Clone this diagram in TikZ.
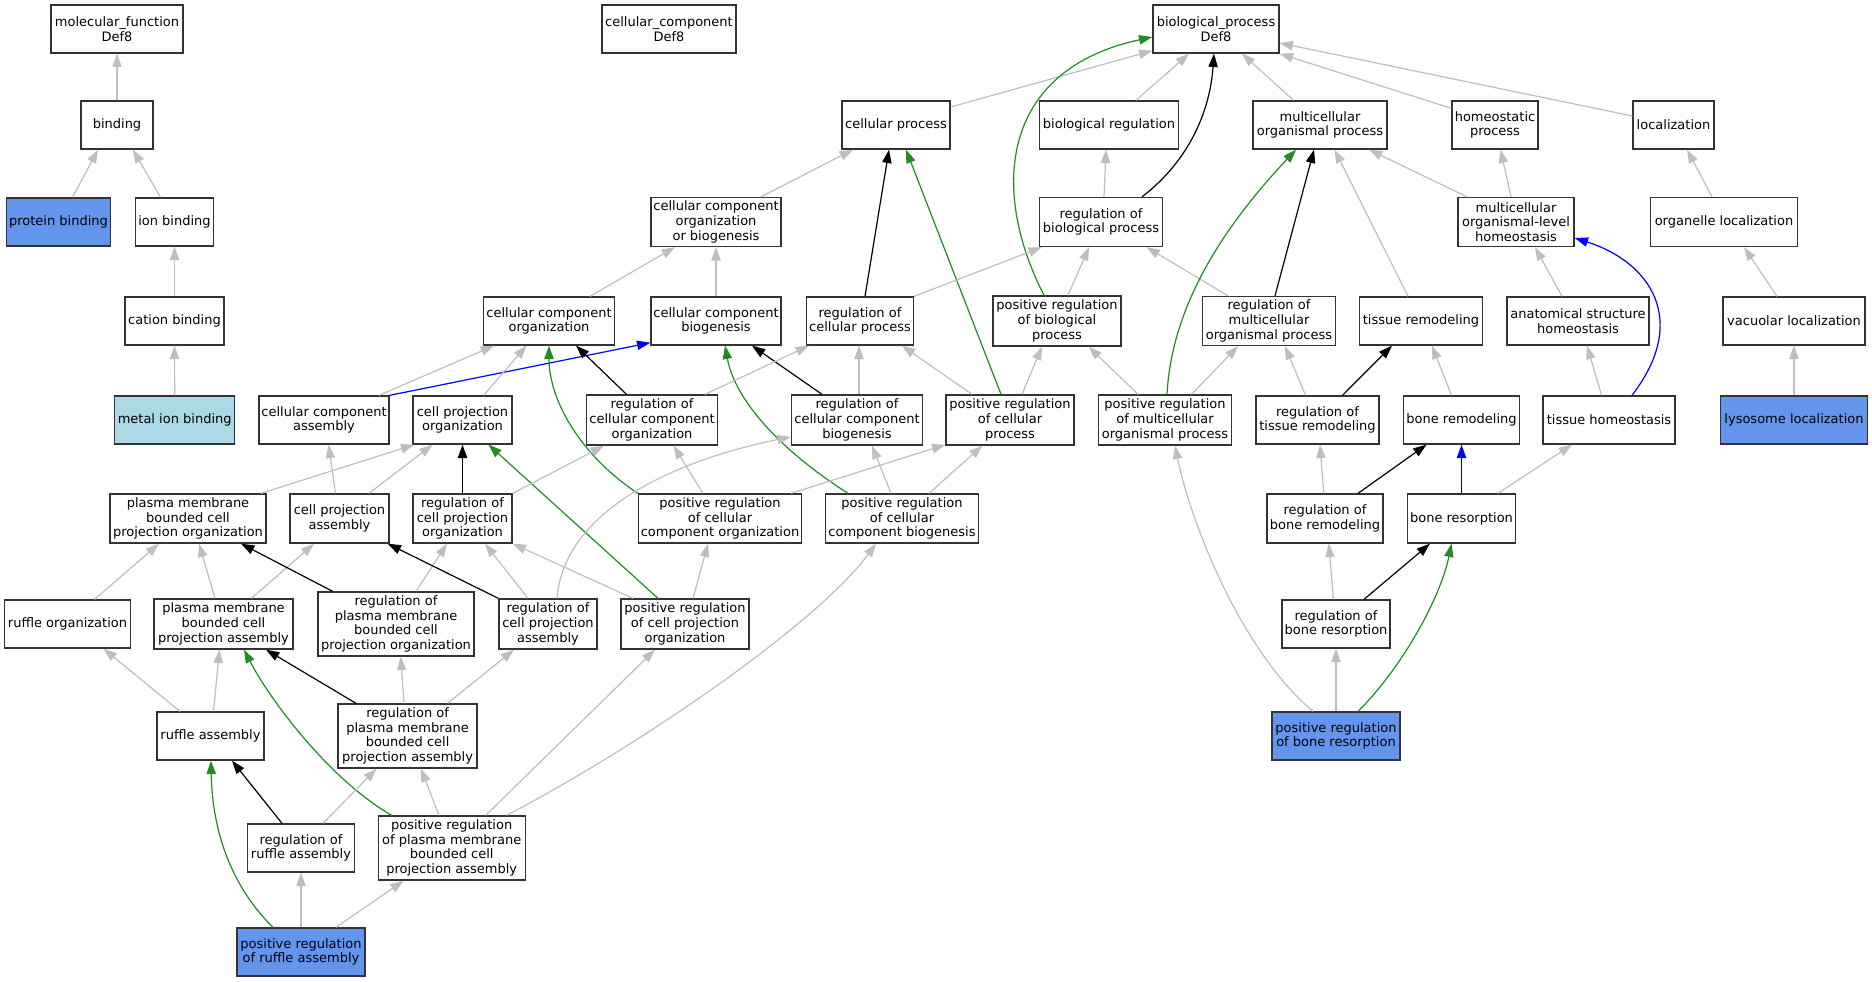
\documentclass[tikz,border=0pt]{standalone}
\usepackage{fontspec}
\setmainfont{DejaVu Sans}
\usetikzlibrary{arrows.meta,calc}
\definecolor{edgegray}{RGB}{190,190,190}
\definecolor{fgreen}{RGB}{34,139,34}
\definecolor{cfblue}{RGB}{100,149,237}
\definecolor{lblue}{RGB}{173,216,230}
\newcommand{\goE}[5]{\draw[#1] ($(#2.north)+(#3,0)$) -- ($(#4.south)+(#5,0)$);}
\begin{document}
\begin{tikzpicture}[x=0.75pt,y=-0.75pt,
  font=\fontsize{9.75pt}{11pt}\selectfont,
  gobox/.style 2 args={draw=black!80, line width=1pt, fill=white, minimum width={#1*0.75pt}, minimum height={#2*0.75pt}, inner sep=0pt, align=center},
  tip/.style={-{Triangle[length=10pt,width=7pt]}},
  isa/.style={draw=edgegray, line width=0.9pt, tip},
  regl/.style={draw=black, line width=0.9pt, tip},
  posr/.style={draw=fgreen, line width=0.9pt, tip},
  partof/.style={draw=blue, line width=0.9pt, tip}]
\fill[white] (0,0) rectangle (1872,981);
\useasboundingbox (0,0) rectangle (1872,981);
% row 1
\node[gobox={132}{48}] (mf) at (117,29) {molecular\_function\\Def8};
\node[gobox={134}{48}] (cc) at (669,29) {cellular\_component\\Def8};
\node[gobox={126}{48}] (bp) at (1216,29) {biological\_process\\Def8};
% row 2
\node[gobox={72}{48}] (bind) at (117,125) {binding};
\node[gobox={108}{48}] (cellproc) at (896,125) {cellular process};
\node[gobox={139}{48}] (bioreg) at (1109,125) {biological regulation};
\node[gobox={134}{48}] (multi) at (1320,125) {multicellular\\organismal process};
\node[gobox={86}{48}] (homeo) at (1495,125) {homeostatic\\process};
\node[gobox={81}{48}] (loc) at (1673.5,125) {localization};
% row 3
\node[gobox={104}{48}, fill=cfblue] (prot) at (58.5,222) {protein binding};
\node[gobox={78}{48}] (ion) at (174.5,222) {ion binding};
\node[gobox={130}{49}] (ccob) at (716,222) {cellular component\\organization\\or biogenesis};
\node[gobox={123}{49}] (regbp) at (1101,222) {regulation of\\biological process};
\node[gobox={116}{49}] (mlh) at (1516,222) {multicellular\\organismal-level\\homeostasis};
\node[gobox={147}{49}] (orgloc) at (1724,222) {organelle localization};
% row 4
\node[gobox={99}{48}] (cation) at (174.5,321) {cation binding};
\node[gobox={131}{48}] (ccorg) at (549,321) {cellular component\\organization};
\node[gobox={130}{48}] (ccbio) at (716,321) {cellular component\\biogenesis};
\node[gobox={107}{48}] (regcp) at (860,321) {regulation of\\cellular process};
\node[gobox={128}{50}] (prbp) at (1057,321) {positive regulation\\of biological\\process};
\node[gobox={133}{49}] (regmop) at (1269,321) {regulation of\\multicellular\\organismal process};
\node[gobox={123}{48}] (tissrem) at (1421,321) {tissue remodeling};
\node[gobox={142}{48}] (ash) at (1578,321) {anatomical structure\\homeostasis};
\node[gobox={142}{48}] (vacloc) at (1794,321) {vacuolar localization};
% row 5
\node[gobox={120}{48}, fill=lblue] (metal) at (174.7,420) {metal ion binding};
\node[gobox={130}{48}] (cca) at (324,420) {cellular component\\assembly};
\node[gobox={99}{48}] (cpo) at (462.5,420) {cell projection\\organization};
\node[gobox={131}{50}] (regcco) at (652,420) {regulation of\\cellular component\\organization};
\node[gobox={131}{50}] (regccb) at (857,420) {regulation of\\cellular component\\biogenesis};
\node[gobox={128}{50}] (prcp) at (1010,420) {positive regulation\\of cellular\\process};
\node[gobox={133}{50}] (prmop) at (1165,420) {positive regulation\\of multicellular\\organismal process};
\node[gobox={123}{48}] (regtr) at (1317.5,420) {regulation of\\tissue remodeling};
\node[gobox={116}{48}] (bonerem) at (1461.5,420) {bone remodeling};
\node[gobox={132}{48}] (tissh) at (1609,420) {tissue homeostasis};
\node[gobox={147}{48}, fill=cfblue] (lyso) at (1794,420) {lysosome localization};
% row 6
\node[gobox={156}{49}] (pmbcpo) at (188,518.5) {plasma membrane\\bounded cell\\projection organization};
\node[gobox={99}{49}] (cpa) at (339.5,518.5) {cell projection\\assembly};
\node[gobox={99}{49}] (regcpo) at (462.5,518.5) {regulation of\\cell projection\\organization};
\node[gobox={163}{49}] (prcco) at (720,518.5) {positive regulation\\of cellular\\component organization};
\node[gobox={153}{49}] (prccb) at (902,518.5) {positive regulation\\of cellular\\component biogenesis};
\node[gobox={116}{49}] (regbrem) at (1325,518.5) {regulation of\\bone remodeling};
\node[gobox={108}{49}] (boneres) at (1461.5,518.5) {bone resorption};
% row 7
\node[gobox={126}{48}] (rufforg) at (67.5,624) {ruffle organization};
\node[gobox={139}{50}] (pmbcpa) at (223.5,624) {plasma membrane\\bounded cell\\projection assembly};
\node[gobox={156}{64}] (regpmbcpo) at (396,624) {regulation of\\plasma membrane\\bounded cell\\projection organization};
\node[gobox={98}{50}] (regcpa) at (548,624) {regulation of\\cell projection\\assembly};
\node[gobox={128}{50}] (prcpo) at (685,624) {positive regulation\\of cell projection\\organization};
\node[gobox={108}{48}] (regbres) at (1336,624) {regulation of\\bone resorption};
% row 8
\node[gobox={107}{48}] (ruffasm) at (210.5,736) {ruffle assembly};
\node[gobox={139}{64}] (regpmbcpa) at (407.6,736) {regulation of\\plasma membrane\\bounded cell\\projection assembly};
\node[gobox={128}{48}, fill=cfblue] (prbres) at (1336,736) {positive regulation\\of bone resorption};
% row 9
\node[gobox={107}{48}] (regruff) at (301,848) {regulation of\\ruffle assembly};
\node[gobox={147}{64}] (prpmbcpa) at (451.7,848) {positive regulation\\of plasma membrane\\bounded cell\\projection assembly};
% row 10
\node[gobox={128}{48}, fill=cfblue] (prruff) at (301,952) {positive regulation\\of ruffle assembly};

% ---- edges ----
\goE{isa}{bind}{0}{mf}{0}
\goE{isa}{prot}{14}{bind}{-19}
\goE{isa}{ion}{-14}{bind}{16}
\goE{isa}{cation}{0}{ion}{0}
\goE{isa}{metal}{0}{cation}{0}
\draw[isa] ($(cellproc.east)+(0,-18)$) -- ($(bp.south west)+(0,-3)$);
\goE{isa}{bioreg}{27}{bp}{-27}
\draw[regl] ($(regbp.north)+(41,0)$) .. controls (1190,160) and (1210,110) .. ($(bp.south)+(-2,0)$);
\draw[posr] ($(prbp.north)+(-13,0)$) .. controls (990,190) and (1000,70) .. ($(bp.west)+(0,8)$);
\goE{isa}{multi}{-26.5}{bp}{26}
\draw[isa] ($(homeo.north west)+(0,8)$) -- (bp.south east);
\draw[isa] ($(loc.west)+(0,-9)$) -- ($(bp.east)+(0,14)$);
\goE{isa}{regbp}{3}{bioreg}{-3}
\goE{isa}{ccob}{45}{cellproc}{-43}
\goE{regl}{regcp}{5}{cellproc}{-7}
\goE{posr}{prcp}{-9}{cellproc}{10}
\goE{isa}{ccorg}{41}{ccob}{-41}
\goE{isa}{ccbio}{0}{ccob}{0}
\draw[isa] (regcp.north east) -- ($(regbp.south west)+(3,0)$);
\goE{isa}{prbp}{11}{regbp}{-12}
\goE{isa}{regmop}{-41}{regbp}{45.5}
\draw[posr] ($(prmop.north)+(2,0)$) .. controls (1172,300) and (1230,220) .. ($(multi.south)+(-24,0)$);
\goE{regl}{regmop}{6}{multi}{-6}
\goE{isa}{tissrem}{-13}{multi}{14.5}
\goE{isa}{mlh}{-49}{multi}{49}
\goE{isa}{mlh}{-5}{homeo}{5.5}
\goE{isa}{orgloc}{-12}{loc}{13.5}
\goE{isa}{ash}{-16}{mlh}{19}
\draw[partof] ($(tissh.north)+(23,0)$) .. controls (1690,320) and (1650,262) .. ($(mlh.east)+(0,16)$);
\goE{isa}{vacloc}{-17}{orgloc}{20}
\goE{isa}{lyso}{0}{vacloc}{0}
\goE{isa}{cca}{55}{ccorg}{-55}
\draw[partof] (cca.north east) -- ($(ccbio.south west)+(0,-3)$);
\goE{isa}{cpo}{21}{ccorg}{-22.5}
\goE{regl}{regcco}{-25.5}{ccorg}{27}
\draw[posr] (prcco.north west) .. controls (580,455) and (549,400) .. (ccorg.south);
\goE{regl}{regccb}{-35}{ccbio}{36}
\draw[posr] ($(prccb.north)+(-54,0)$) .. controls (780,450) and (735,400) .. ($(ccbio.south)+(9,0)$);
\goE{isa}{regcco}{53}{regcp}{-51}
\goE{isa}{regccb}{2}{regcp}{-1}
\goE{isa}{prcp}{-38}{regcp}{42}
\goE{isa}{prcp}{12}{prbp}{-15}
\goE{isa}{prmop}{-27}{prbp}{31.6}
\goE{isa}{prmop}{26.5}{regmop}{-31}
\goE{isa}{regtr}{-12}{regmop}{16}
\goE{regl}{regtr}{25}{tissrem}{-29}
\goE{isa}{bonerem}{-10}{tissrem}{11}
\goE{isa}{tissh}{-7.4}{ash}{9}
\goE{isa}{regbrem}{-1.3}{regtr}{2.5}
\goE{regl}{regbrem}{33}{bonerem}{-35}
\goE{partof}{boneres}{0}{bonerem}{0}
\goE{isa}{boneres}{36.5}{tissh}{-37}
\goE{isa}{regbres}{-2.6}{regbrem}{3.8}
\goE{regl}{regbres}{28}{boneres}{-31.5}
\goE{isa}{prbres}{0}{regbres}{0}
\draw[posr] ($(prbres.north)+(22,0)$) .. controls (1400,670) and (1440,600) .. ($(boneres.south)+(-10,0)$);
\draw[isa] ($(prbres.north)+(-23,0)$) .. controls (1240,650) and (1190,520) .. ($(prmop.south)+(10,0)$);
\draw[isa] ($(pmbcpo.north)+(73,0)$) -- ($(cpo.south west)+(2,0)$);
\goE{isa}{cpa}{29.5}{cpo}{-30}
\goE{regl}{regcpo}{0}{cpo}{0}
\goE{posr}{prcpo}{-27}{cpo}{26}
\goE{isa}{cpa}{-4}{cca}{4.6}
\draw[isa] (regcpo.north east) -- ($(regcco.south)+(-48,0)$);
\goE{isa}{pmbcpa}{-8.5}{pmbcpo}{11}
\goE{isa}{pmbcpa}{28}{cpa}{-25.5}
\goE{isa}{rufforg}{27}{pmbcpo}{-29}
\goE{regl}{regpmbcpo}{-63.4}{pmbcpo}{53}
\goE{isa}{regpmbcpo}{20}{regcpo}{-15.5}
\draw[regl] (regcpa.north west) -- ($(cpa.south east)+(-2,0)$);
\goE{isa}{regcpa}{-20}{regcpo}{22.5}
\draw[isa] ($(regcpa.north)+(9,0)$) .. controls (565,500) and (700,455) .. ($(regccb.west)+(0,17)$);
\draw[isa] ($(prcpo.north)+(-52,0)$) -- (regcpo.south east);
\goE{isa}{prcpo}{8}{prcco}{-12}
\goE{isa}{prcco}{-17}{regcco}{21.5}
\draw[isa] ($(prcco.north)+(71,0)$) -- ($(prcp.south west)+(0,-1)$);
\goE{isa}{prccb}{-11}{regccb}{15}
\goE{isa}{prccb}{27}{prcp}{-27.6}
\goE{isa}{ruffasm}{-30.5}{rufforg}{36}
\goE{isa}{ruffasm}{3}{pmbcpa}{-4}
\goE{regl}{regpmbcpa}{-51.6}{pmbcpa}{42.5}
\goE{isa}{regpmbcpa}{-3.6}{regpmbcpo}{4.7}
\goE{isa}{regpmbcpa}{40}{regcpa}{-34}
\draw[posr] ($(prpmbcpa.north)+(-60,0)$) .. controls (330,780) and (270,700) .. ($(pmbcpa.south)+(20.5,0)$);
\goE{regl}{regruff}{-19}{ruffasm}{21.5}
\goE{isa}{regruff}{22}{regpmbcpa}{-31}
\goE{isa}{prpmbcpa}{-12.7}{regpmbcpa}{13.4}
\goE{isa}{prpmbcpa}{34}{prcpo}{-30}
\draw[isa] ($(prpmbcpa.north)+(55,0)$) .. controls (650,740) and (820,620) .. ($(prccb.south)+(-26,0)$);
\draw[posr] ($(prruff.north)+(-28,0)$) .. controls (225,880) and (212,820) .. ($(ruffasm.south)+(0.5,0)$);
\goE{isa}{prruff}{0}{regruff}{0}
\goE{isa}{prruff}{35}{prpmbcpa}{-48}
\end{tikzpicture}
\end{document}
